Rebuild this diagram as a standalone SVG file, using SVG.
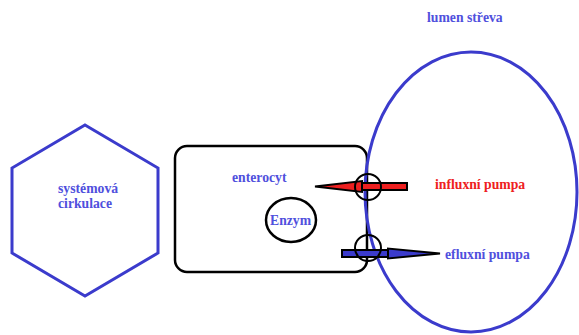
<svg xmlns="http://www.w3.org/2000/svg" width="579" height="335" viewBox="0 0 579 335">
<style>
.t{font-family:"Liberation Serif","Times New Roman",serif;font-weight:bold;font-size:13.7px;fill:#5050dd}
.blue{fill:none;stroke:#3b3bcc;stroke-width:3}
.blk{fill:none;stroke:#000;stroke-width:2.5}
</style>
<rect width="579" height="335" fill="#fff"/>
<g id="systemova-cirkulace">
<polygon class="blue" points="85,125 158,168 158,253 85,296 12,253 12,168"/>
<text class="t" x="58" y="193">systémová</text>
<text class="t" x="58" y="208">cirkulace</text>
</g>
<g id="enterocyt">
<rect class="blk" x="175" y="146" width="192" height="126" rx="12"/>
<text class="t" x="232" y="182">enterocyt</text>
</g>
<g id="enzym">
<ellipse class="blk" cx="291" cy="220" rx="25" ry="22"/>
<text class="t" x="270" y="225">Enzym</text>
</g>
<g id="lumen">
<ellipse class="blue" cx="471" cy="192" rx="106" ry="140"/>
<text class="t" x="427" y="22">lumen střeva</text>
</g>
<g id="connectors">
<g id="influx">
<rect x="360" y="183" width="47" height="7" fill="#ee2020" stroke="#000" stroke-width="2"/>
<polygon points="315,186.5 362,181 362,192" fill="#ee2020" stroke="#000" stroke-width="2"/>
<circle cx="368" cy="187" r="13" fill="none" stroke="#000" stroke-width="2"/>
</g>
<g id="eflux">
<rect x="342" y="250" width="50" height="7" fill="#3b3bcc" stroke="#000" stroke-width="2"/>
<polygon points="440,253.5 388,248.5 388,258.5" fill="#3b3bcc" stroke="#000" stroke-width="2"/>
<circle cx="368" cy="248" r="13" fill="none" stroke="#000" stroke-width="2"/>
</g>
</g>
<g id="labels">
<text class="t" x="435" y="189" style="fill:#ee2020">influxní pumpa</text>
<text class="t" x="445" y="259">efluxní pumpa</text>
</g>
</svg>
